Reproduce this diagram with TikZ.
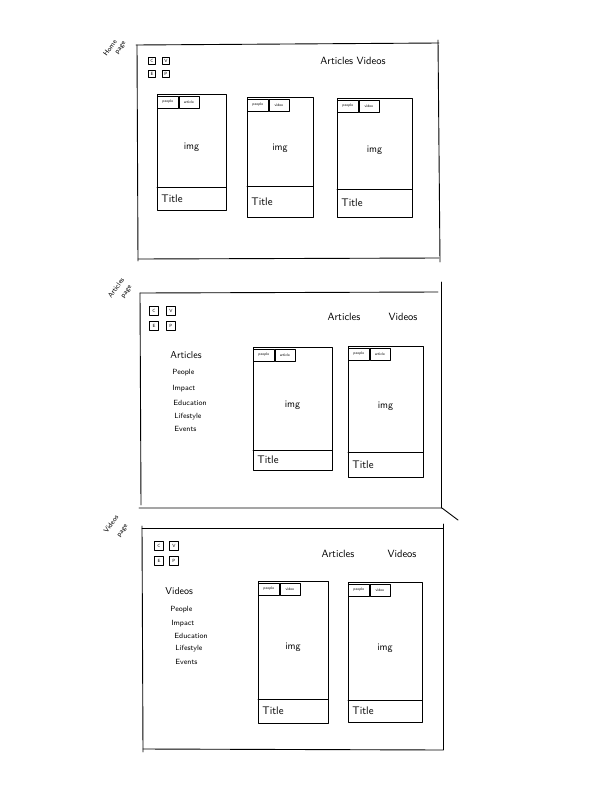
\documentclass[tikz,border=0pt]{standalone}
\begin{document}
\begin{tikzpicture}[x=1pt, y=-1pt, line width=0.9pt, line cap=round, line join=round,
    every node/.style={font=\sffamily, inner sep=1pt},
    pagename/.style={font=\sffamily\fontsize{7}{7}\selectfont, rotate=55, inner sep=0pt},
    nav/.style={font=\sffamily\fontsize{10.5}{12}\selectfont},
    logo/.style={draw, line width=0.6pt, minimum size=#1, inner sep=0pt, font=\sffamily\fontsize{4.5}{5}\selectfont},
    tab/.style={draw, line width=0.6pt, minimum height=12pt, inner sep=0pt, anchor=north west, font=\sffamily\fontsize{3.8}{4}\selectfont},
    heading/.style={font=\sffamily\fontsize{10}{12}\selectfont, anchor=west},
    item/.style={font=\sffamily\fontsize{7.5}{9}\selectfont, anchor=west}]
  \useasboundingbox (0,0) rectangle (605,792);

  % home page
  \draw (136,45) -- (439,43);
  \draw (438,40) -- (440,262);
  \draw (138,259) -- (439,258);
  \draw (137,45) -- (138,261);
  \node[pagename] (home-label) at (110,48) {Home};
  \node[pagename] (home-label2) at (121,48) {page};
  \node[nav] (home-nav) at (353,61) {Articles Videos};

  % articles page
  \draw (140,293) -- (438,292);
  \draw (441,282) -- (441,508);
  \draw (139,508) -- (442,508) -- (458,520);
  \draw (140,293) -- (141,505);
  \node[pagename] (articles-label) at (116,288) {Articles};
  \node[pagename] (articles-label2) at (127,292) {page};
  \node[nav] (articles-nav-a) at (344,317) {Articles};
  \node[nav] (articles-nav-v) at (403,317) {Videos};
  \node[heading] (articles-head) at (169,355) {Articles};
  \foreach \name/\xx/\yy in {People/171/373, Impact/171/389, Education/172/403, Lifestyle/173/417, Events/173/429}
    \node[item] (articles-\name) at (\xx,\yy) {\name};

  % videos page
  \draw (142,528) -- (443,528);
  \draw (443,524) -- (443,750);
  \draw (143,749) -- (443,750);
  \draw (142,526) -- (143,752);
  \node[pagename] (videos-label) at (111,524) {Videos};
  \node[pagename] (videos-label2) at (123,531) {page};
  \node[nav] (videos-nav-a) at (338,554) {Articles};
  \node[nav] (videos-nav-v) at (402,554) {Videos};
  \node[heading] (videos-head) at (164,591) {Videos};
  \foreach \name/\xx/\yy in {People/169/610, Impact/170/624, Education/173/636, Lifestyle/174/649, Events/174/662}
    \node[item] (videos-\name) at (\xx,\yy) {\name};

  % logo squares
  \foreach \pg/\xx/\yy/\dx/\dy/\sz in {home/152/61/14/13/7pt, articles/154/311/17/15/8.5pt, videos/159/546/15/15/8.5pt}
  {
    \node[logo=\sz] (\pg-c) at (\xx,\yy) {C};
    \node[logo=\sz] (\pg-v) at (\xx+\dx,\yy) {V};
    \node[logo=\sz] (\pg-e) at (\xx,\yy+\dy) {E};
    \node[logo=\sz] (\pg-p) at (\xx+\dx,\yy+\dy) {P};
  }

  % cards
  \foreach \n/\xl/\yt/\xr/\yb/\yd/\kind in {h1/157/94/226/210/187/article, h2/247/97/313/217/186/video,
      h3/337/98/412/217/189/video, a1/253/347/332/470/450/article, a2/348/346/423/477/452/article,
      v1/258/581/328/723/699/video, v2/348/582/422/722/700/video}
  {
    \draw (\xl,\yt) rectangle (\xr,\yb);
    \draw (\xl,\yd) -- (\xr,\yd);
    \node[tab, minimum width=21pt] (\n-people) at (\xl,\yt+1.5) {people};
    \node[tab, minimum width=20pt] (\n-kind) at (\n-people.north east) {\kind};
    \node (\n-img) at ({(\xl+\xr)/2}, {(\yt+14+\yd)/2}) {img};
    \node[anchor=west, font=\sffamily\fontsize{11}{12}\selectfont] (\n-title) at (\xl+3, {(\yd+\yb)/2}) {Title};
  }
\end{tikzpicture}
\end{document}
